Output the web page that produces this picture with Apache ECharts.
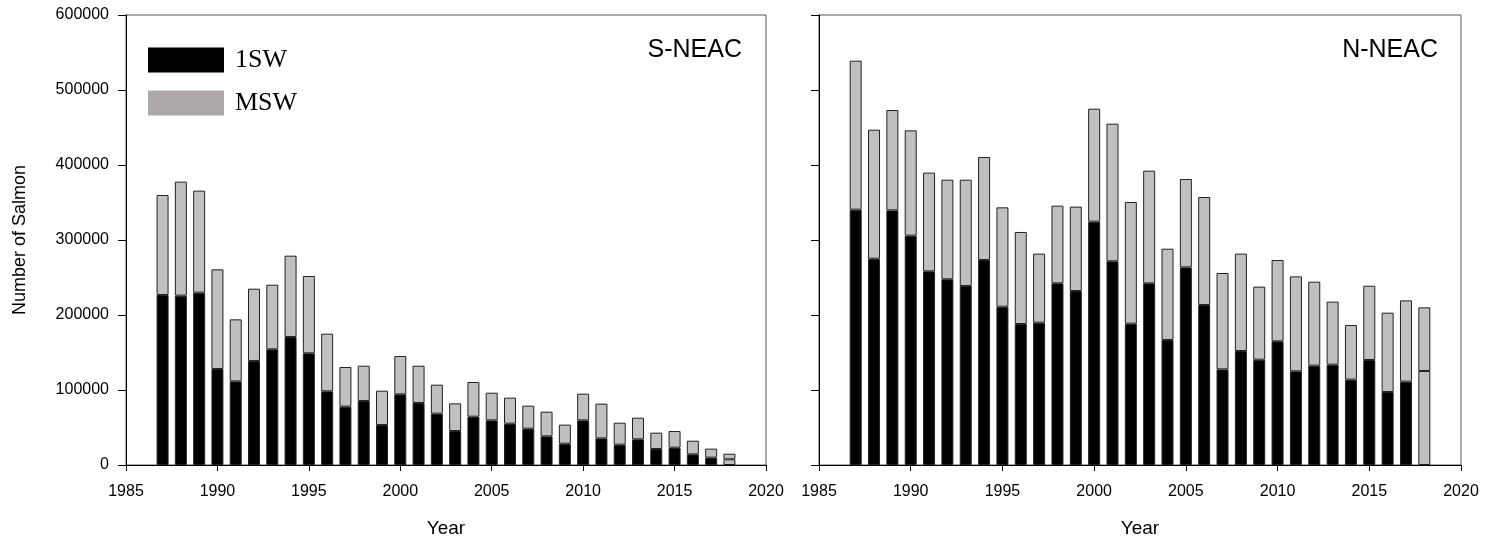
<!DOCTYPE html>
<html>
<head>
<meta charset="utf-8">
<script src="https://cdn.jsdelivr.net/npm/echarts@6/dist/echarts.min.js"></script>
<style>html,body{margin:0;padding:0;background:#fff;}#c{width:1486px;height:539px;}</style>
</head>
<body>
<div id="c"></div>
<script>
const axisYears = ['1985','1986','1987','1988','1989','1990','1991','1992','1993','1994','1995','1996','1997','1998','1999','2000','2001','2002','2003','2004','2005','2006','2007','2008','2009','2010','2011','2012','2013','2014','2015','2016','2017','2018','2019','2020'];
const years = [1987,1988,1989,1990,1991,1992,1993,1994,1995,1996,1997,1998,1999,2000,2001,2002,2003,2004,2005,2006,2007,2008,2009,2010,2011,2012,2013,2014,2015,2016,2017,2018];
const s1SW = [226700,225800,229800,128000,111500,138700,154200,170700,148900,98200,77800,85300,53300,94200,82700,68400,45300,64400,59500,55100,48400,38200,28400,59500,35500,27100,34200,21300,23100,14200,9800,7600];
const sMSW = [133300,152000,136000,132900,82700,96400,86200,108400,103100,76900,52900,47100,45800,51100,49700,38700,36900,46300,36900,34700,30700,32900,25400,35600,46300,29300,28900,21800,22200,18200,12000,7500];
const n1SW = [340400,275100,339500,305800,258200,247600,238700,273300,211100,188000,189800,242200,232000,324400,271600,188400,242200,166700,263500,213300,127500,152000,140400,164900,124900,132400,133800,113800,140000,97300,111100,125300];
const nMSW = [198700,172000,133800,140400,131600,132800,141700,137400,132400,122700,92000,103600,112500,150700,183500,162300,150200,121700,117800,144000,128500,129800,97400,108400,126600,112000,84000,72900,99100,105800,108400,84900];
const yTicks = [0,100000,200000,300000,400000,500000,600000];
const provisionalYear = 2018;

const BLACK = '#000000', GREY = '#c0c0c0', EDGE = '#222222';
function toCats(vals, isOne) {
  return axisYears.map(c => {
    const i = years.indexOf(Number(c));
    if (i < 0) return '-';
    const d = { value: vals[i] };
    if (isOne && years[i] === provisionalYear) d.itemStyle = { color: GREY };
    return d;
  });
}
const font = 'Liberation Sans, Arial, sans-serif';
function xAxis(idx) {
  return {
    type: 'category', gridIndex: idx, data: axisYears, boundaryGap: false,
    name: 'Year', nameLocation: 'middle', nameGap: 54,
    nameTextStyle: { fontFamily: font, fontSize: 19, color: '#000' },
    axisLine: { show: true, lineStyle: { color: '#000', width: 1 } },
    axisTick: { show: true, inside: false, length: 6, interval: 4, alignWithLabel: true, lineStyle: { color: '#000' } },
    axisLabel: { show: true, interval: 4, fontFamily: font, fontSize: 16, color: '#000', margin: 19 },
    splitLine: { show: false }
  };
}
function yAxis(idx, labels) {
  return {
    type: 'value', gridIndex: idx, min: yTicks[0], max: yTicks[yTicks.length-1], interval: 100000,
    name: labels ? 'Number of Salmon' : '', nameLocation: 'middle', nameGap: 97,
    nameTextStyle: { fontFamily: font, fontSize: 18, color: '#000' },
    axisLine: { show: true, lineStyle: { color: '#000', width: 1 } },
    axisTick: { show: true, inside: false, length: 8, lineStyle: { color: '#000' } },
    axisLabel: { show: labels, fontFamily: font, fontSize: 16, color: '#000', margin: 17, formatter: v => String(v) },
    splitLine: { show: false }
  };
}
function bars(name, idx, vals, isOne, stack) {
  return {
    name: name, type: 'bar', xAxisIndex: idx, yAxisIndex: idx, stack: stack,
    barWidth: 12, data: toCats(vals, isOne),
    itemStyle: { color: isOne ? BLACK : GREY, borderColor: EDGE, borderWidth: 1 },
    emphasis: { disabled: true }, animation: false
  };
}
const chart = echarts.init(document.getElementById('c'), null, { renderer: 'canvas' });
chart.setOption({
  backgroundColor: '#fff',
  animation: false,
  grid: [
    { left: 126, top: 15, width: 640, height: 450, show: true, borderColor: '#555', borderWidth: 1, backgroundColor: 'transparent', containLabel: false, outerBoundsMode: 'none' },
    { left: 819, top: 15, width: 642, height: 450, show: true, borderColor: '#555', borderWidth: 1, backgroundColor: 'transparent', containLabel: false, outerBoundsMode: 'none' }
  ],
  title: [
    { text: 'S-NEAC', right: 739, top: 33, textStyle: { fontFamily: font, fontSize: 25, fontWeight: 'normal', color: '#000' } },
    { text: 'N-NEAC', right: 43, top: 33, textStyle: { fontFamily: font, fontSize: 25, fontWeight: 'normal', color: '#000' } }
  ],
  legend: {
    orient: 'vertical', left: 143, top: 42, itemWidth: 76, itemHeight: 25, itemGap: 17,
    selectedMode: false, icon: 'rect',
    textStyle: { fontFamily: 'Liberation Serif, Times New Roman, serif', fontSize: 26, color: '#000', padding: [0,0,0,6] },
    data: [
      { name: '1SW', itemStyle: { color: '#000', borderWidth: 0 } },
      { name: 'MSW', itemStyle: { color: '#aeaaaa', borderWidth: 0 } }
    ]
  },
  xAxis: [xAxis(0), xAxis(1)],
  yAxis: [yAxis(0, true), yAxis(1, false)],
  series: [
    bars('1SW', 0, s1SW, true, 's'),
    bars('MSW', 0, sMSW, false, 's'),
    bars('1SW', 1, n1SW, true, 'n'),
    bars('MSW', 1, nMSW, false, 'n')
  ]
});
</script>
</body>
</html>
